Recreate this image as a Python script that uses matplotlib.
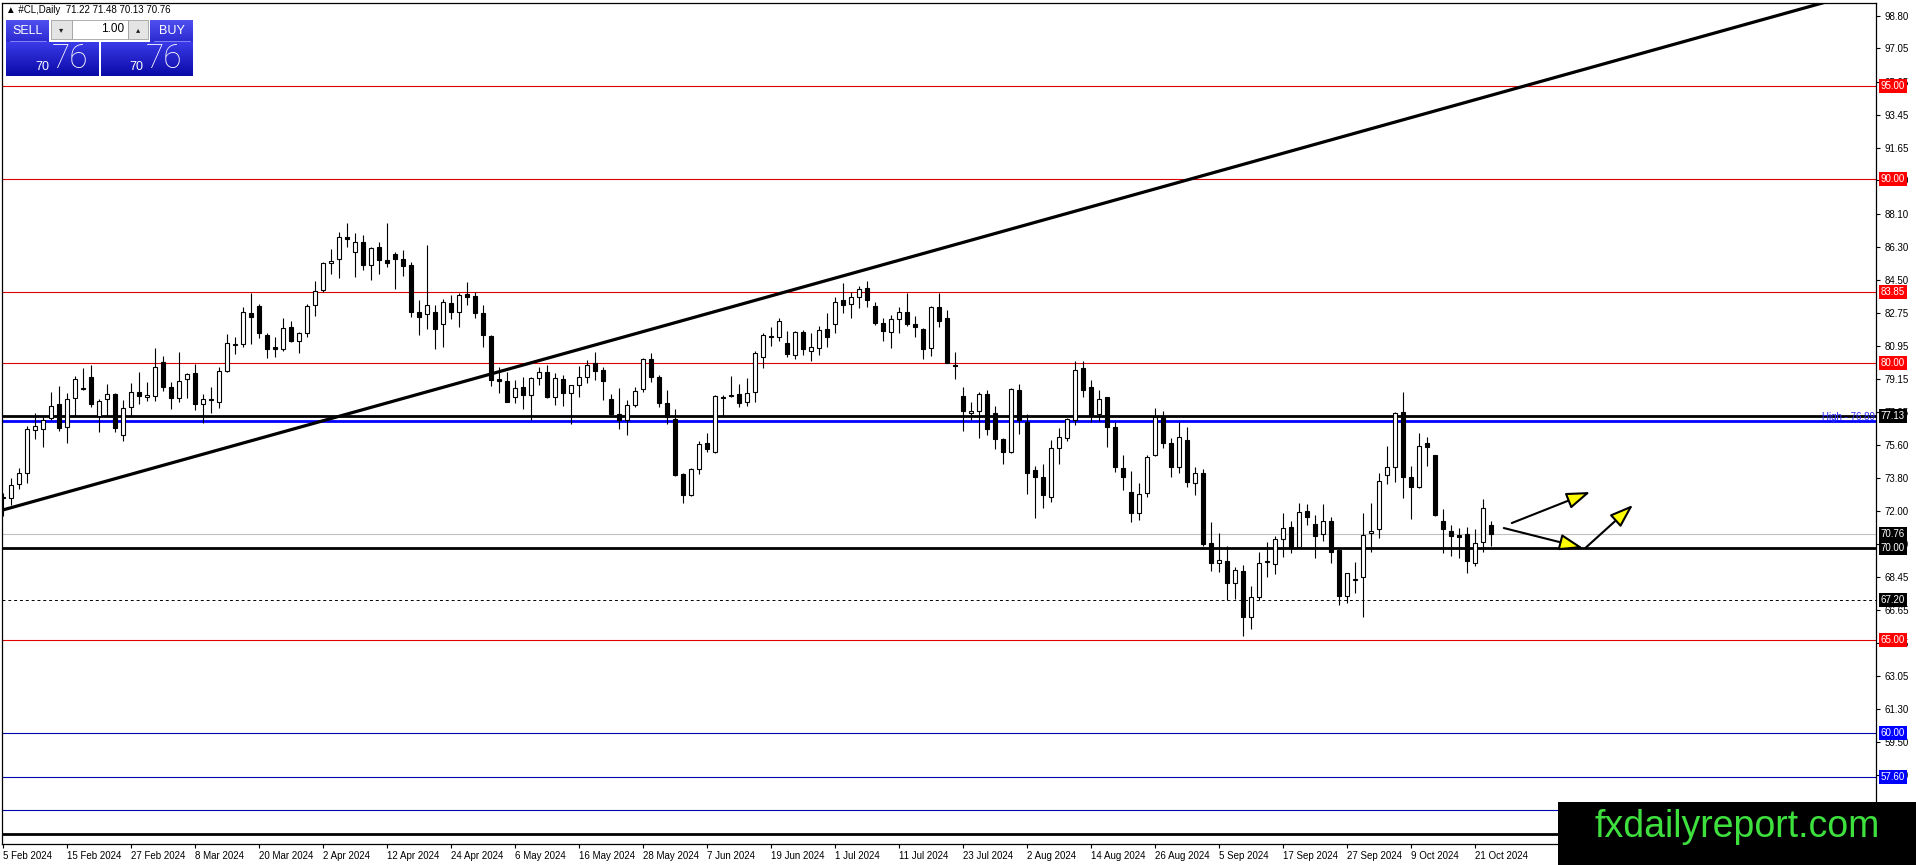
import matplotlib
matplotlib.use('Agg')
import matplotlib.pyplot as plt
from matplotlib.patches import Rectangle, FancyArrowPatch, ArrowStyle
from matplotlib.transforms import blended_transform_factory
import numpy as np

plt.rcParams['font.family'] = ['Liberation Sans', 'DejaVu Sans']

# ---------------- data ----------------
opens = [72.70, 72.72, 73.45, 74.04, 76.39, 76.42, 77.02, 77.78, 76.57, 78.10,
         78.66, 79.28, 77.15, 78.05, 78.32, 76.12, 77.65, 78.43, 78.16, 78.25,
         80.09, 78.70, 78.10, 79.15, 79.46, 77.78, 78.00, 77.89, 79.60, 81.00,
         81.04, 82.71, 83.10, 81.53, 80.90, 80.76, 81.95, 81.23, 81.66, 83.15,
         83.97, 85.45, 85.63, 86.82, 86.04, 86.55, 85.32, 86.28, 85.59, 85.90,
         85.63, 85.32, 82.80, 82.67, 82.80, 82.13, 83.28, 82.76, 83.75, 83.66,
         82.71, 81.48, 79.15, 79.04, 78.16, 78.70, 78.28, 79.19, 79.55, 78.16,
         79.13, 78.41, 78.82, 79.28, 80.00, 79.64, 78.05, 77.26, 76.93, 77.74,
         78.59, 80.21, 79.28, 77.83, 76.97, 74.00, 72.87, 74.26, 75.67, 75.22,
         78.20, 78.23, 78.32, 77.92, 78.46, 80.36, 81.50, 81.41, 81.08, 80.45,
         81.71, 80.68, 80.81, 81.84, 82.13, 83.43, 83.21, 83.57, 84.06, 83.10,
         82.20, 81.71, 82.38, 82.80, 82.13, 81.84, 80.81, 83.07, 82.43, 79.93,
         78.23, 77.29, 77.44, 78.34, 77.29, 75.88, 75.18, 78.55, 76.84, 74.22,
         73.86, 72.78, 75.40, 75.97, 76.93, 79.73, 78.70, 77.26, 78.16, 76.53,
         74.31, 73.05, 71.91, 72.96, 75.04, 77.15, 75.70, 74.37, 75.85, 73.50,
         74.04, 70.25, 69.21, 69.31, 68.09, 68.75, 66.25, 67.37, 69.22, 69.12,
         70.47, 71.12, 70.07, 72.02, 71.30, 70.76, 71.48, 69.89, 67.40, 68.28,
         68.41, 70.79, 71.01, 73.95, 74.37, 77.35, 73.83, 73.32, 75.70, 75.04,
         71.48, 70.94, 70.70, 70.74, 69.21, 70.34, 71.22]
highs = [73.00, 73.77, 74.31, 76.61, 77.29, 77.07, 78.43, 78.77, 78.37, 79.31,
         79.73, 79.91, 78.05, 78.88, 78.41, 78.01, 78.92, 79.55, 79.00, 80.81,
         80.40, 79.00, 80.63, 79.49, 79.94, 78.34, 78.70, 79.82, 81.57, 81.44,
         83.03, 83.82, 83.21, 81.66, 81.41, 82.43, 82.31, 81.70, 83.21, 84.47,
         85.50, 86.17, 87.13, 87.61, 87.04, 86.95, 86.31, 86.59, 87.61, 86.04,
         86.13, 85.50, 83.43, 86.40, 83.16, 83.46, 83.70, 83.79, 84.42, 83.88,
         83.16, 81.53, 79.78, 79.55, 79.10, 79.24, 79.28, 79.82, 79.91, 79.46,
         79.37, 78.85, 79.85, 80.18, 80.63, 79.78, 78.34, 78.64, 78.01, 78.73,
         80.27, 80.58, 79.37, 78.55, 77.51, 74.04, 74.31, 75.81, 76.21, 78.28,
         78.30, 79.31, 78.88, 79.19, 80.68, 81.62, 81.98, 82.43, 81.77, 81.77,
         81.80, 81.62, 82.02, 82.71, 83.57, 84.33, 83.84, 84.18, 84.47, 83.34,
         82.43, 82.61, 83.07, 83.79, 82.56, 81.89, 83.10, 83.82, 82.88, 80.63,
         78.70, 77.90, 78.46, 78.55, 77.69, 75.94, 78.64, 78.88, 77.26, 74.44,
         74.55, 75.85, 76.48, 77.02, 80.14, 80.14, 79.10, 78.55, 78.20, 76.84,
         75.04, 74.19, 73.50, 75.04, 77.56, 77.44, 75.94, 76.84, 76.53, 74.37,
         74.26, 71.43, 70.83, 70.11, 68.95, 69.08, 67.94, 69.80, 70.34, 70.65,
         71.91, 71.46, 72.45, 72.38, 71.79, 72.38, 71.66, 69.95, 68.66, 69.26,
         71.91, 72.42, 74.04, 75.52, 77.38, 78.46, 74.44, 76.21, 75.99, 75.06,
         72.09, 71.25, 71.06, 71.16, 71.01, 72.63, 71.48]
lows = [71.75, 72.33, 73.18, 73.54, 75.88, 75.49, 76.93, 76.33, 75.70, 77.15,
        78.55, 77.62, 76.30, 77.15, 76.30, 75.81, 77.11, 77.78, 77.96, 77.96,
        78.50, 77.51, 77.92, 78.10, 77.47, 76.75, 77.29, 77.56, 79.55, 80.51,
        80.90, 81.04, 81.39, 80.27, 80.36, 80.68, 81.18, 80.54, 81.44, 82.56,
        83.88, 84.83, 84.62, 86.28, 84.65, 85.05, 84.51, 84.83, 85.23, 84.00,
        84.73, 82.49, 81.53, 81.84, 80.76, 80.87, 82.38, 81.95, 83.16, 82.44,
        80.90, 78.77, 78.37, 77.90, 77.87, 77.51, 76.93, 78.82, 78.10, 77.74,
        77.69, 76.71, 78.16, 78.95, 79.10, 78.01, 77.20, 76.42, 76.12, 77.65,
        78.46, 79.01, 77.65, 76.71, 73.90, 72.45, 72.82, 74.00, 75.22, 75.16,
        77.11, 78.20, 77.65, 77.69, 77.92, 79.73, 80.94, 81.23, 80.32, 80.21,
        80.45, 80.14, 80.45, 80.90, 81.66, 82.71, 82.43, 82.98, 83.03, 82.07,
        81.23, 80.83, 81.62, 82.02, 81.41, 80.21, 80.40, 81.98, 80.00, 79.13,
        76.35, 76.95, 75.97, 76.12, 75.34, 74.55, 75.16, 76.17, 72.92, 71.61,
        72.15, 72.51, 74.55, 75.81, 76.66, 78.16, 76.84, 76.89, 75.49, 74.13,
        73.14, 71.43, 71.52, 72.78, 75.00, 75.40, 73.83, 74.04, 73.32, 72.87,
        70.11, 68.77, 68.72, 67.18, 67.22, 65.24, 65.60, 67.18, 68.45, 68.59,
        69.53, 69.71, 70.04, 71.25, 69.44, 70.40, 69.21, 66.91, 67.04, 67.55,
        66.28, 69.80, 70.52, 73.47, 73.59, 72.69, 71.55, 73.23, 74.44, 71.73,
        69.71, 69.57, 69.44, 68.66, 69.03, 69.80, 70.13]
closes = [72.78, 73.41, 74.04, 76.42, 76.61, 76.93, 77.71, 76.52, 78.05, 79.13,
          78.62, 77.78, 77.98, 78.32, 76.52, 77.56, 78.46, 78.25, 78.28, 79.78,
          78.73, 78.10, 79.06, 79.40, 77.80, 78.05, 78.05, 79.60, 81.08, 81.05,
          82.76, 82.49, 81.66, 80.76, 80.76, 81.89, 81.23, 81.66, 83.10, 83.93,
          85.45, 85.56, 86.82, 86.71, 86.55, 85.32, 86.22, 85.59, 85.41, 85.63,
          85.27, 82.80, 82.49, 83.16, 81.84, 83.34, 82.80, 83.70, 83.61, 82.71,
          81.53, 79.10, 79.04, 77.92, 78.64, 78.28, 79.19, 79.55, 78.16, 79.19,
          78.41, 78.82, 79.28, 79.91, 79.60, 79.06, 77.26, 76.93, 77.74, 78.52,
          80.21, 79.24, 77.83, 77.11, 73.95, 72.87, 74.26, 75.63, 75.34, 78.23,
          78.12, 78.25, 77.87, 78.41, 80.54, 81.53, 81.44, 82.29, 80.50, 81.71,
          80.76, 80.86, 81.80, 81.44, 83.34, 83.16, 83.57, 84.00, 83.43, 82.20,
          81.77, 82.38, 82.79, 82.13, 81.95, 80.76, 83.07, 82.31, 80.03, 79.88,
          77.44, 77.44, 78.34, 76.42, 75.88, 75.22, 78.59, 76.93, 74.08, 73.86,
          72.87, 75.40, 76.03, 76.97, 79.64, 78.55, 77.15, 78.05, 76.57, 74.37,
          73.86, 71.91, 72.92, 74.91, 77.07, 75.70, 74.37, 75.99, 73.59, 74.04,
          70.22, 69.21, 69.35, 68.12, 68.81, 66.25, 67.33, 69.17, 69.28, 70.47,
          71.06, 70.04, 71.97, 71.66, 70.65, 71.48, 69.80, 67.40, 68.63, 68.33,
          70.70, 70.94, 73.65, 74.40, 77.29, 73.86, 73.32, 75.52, 75.45, 71.79,
          71.01, 70.67, 70.61, 69.31, 70.25, 72.15, 70.76]

date_tick_bars = list(range(0, 185, 8))
date_labels = ['5 Feb 2024', '15 Feb 2024', '27 Feb 2024', '8 Mar 2024', '20 Mar 2024',
               '2 Apr 2024', '12 Apr 2024', '24 Apr 2024', '6 May 2024', '16 May 2024',
               '28 May 2024', '7 Jun 2024', '19 Jun 2024', '1 Jul 2024', '11 Jul 2024',
               '23 Jul 2024', '2 Aug 2024', '14 Aug 2024', '26 Aug 2024', '5 Sep 2024',
               '17 Sep 2024', '27 Sep 2024', '9 Oct 2024', '21 Oct 2024']

price_ticks = [98.80, 97.05, 95.25, 93.45, 91.65, 89.90, 88.10, 86.30, 84.50, 82.75,
               80.95, 79.15, 77.35, 75.60, 73.80, 72.00, 70.20, 68.45, 66.65, 64.85,
               63.05, 61.30, 59.50, 57.70, 55.95, 54.15]

red_levels = [95.00, 90.00, 83.85, 80.00, 65.00]
blue_levels = [60.00, 57.60, 55.80]
black_thick_levels = [77.13, 70.00, 54.50]
high_level = 76.89
bid_level = 70.76
dashed_level = 67.20

trend_x = [0.0, 227.0]
trend_y = [72.06, 99.46]

arrows = [((188.6, 71.35), (198.4, 73.03)),
          ((187.6, 71.08), (197.5, 70.00)),
          ((197.8, 70.00), (203.75, 72.33))]

box_levels = [(95.00, '#ff0000'), (90.00, '#ff0000'), (83.85, '#ff0000'),
              (80.00, '#ff0000'), (77.13, '#000000'), (70.76, '#000000'),
              (70.00, '#000000'), (67.20, '#000000'), (65.00, '#ff0000'),
              (60.00, '#0000ff'), (57.60, '#0000ff')]

# ---------------- figure ----------------
W, H = 1916, 865
fig = plt.figure(figsize=(W / 100, H / 100), dpi=100, facecolor='white')
L_px, R_px, T_px, B_px = 2, 1876, 3, 844
ax = fig.add_axes([L_px / W, 1 - B_px / H, (R_px - L_px) / W, (B_px - T_px) / H])
ax.set_facecolor('white')

x_min = (L_px - 3) / 8.0
x_max = (R_px - 3) / 8.0
ax.set_xlim(x_min, x_max)
ax.set_ylim(53.97, 99.51)

# horizontal levels
for lv in red_levels:
    ax.axhline(lv, color='#dd0000', lw=0.8, zorder=1)
for lv in blue_levels:
    ax.axhline(lv, color='#0000b0', lw=0.8, zorder=1)
ax.axhline(bid_level, color='#c0c0c0', lw=0.8, zorder=1)
ax.axhline(dashed_level, color='black', lw=0.7, ls=(0, (3, 3)), zorder=1)
ax.axhline(high_level, color='#0000ff', lw=2.0, zorder=1)
for lv in black_thick_levels:
    ax.axhline(lv, color='black', lw=2.0, zorder=1)

# trend line (extended across the plot)
slope = (trend_y[1] - trend_y[0]) / (trend_x[1] - trend_x[0])
tx = np.array([x_min - 2, x_max + 2])
ax.plot(tx, trend_y[0] + slope * (tx - trend_x[0]), color='black', lw=2.3, zorder=2,
        solid_capstyle='butt')

# candles
o = np.array(opens); h = np.array(highs); l = np.array(lows); c = np.array(closes)
xs = np.arange(len(o))
ax.vlines(xs, l, h, color='black', lw=0.8, zorder=3)
bottoms = np.minimum(o, c)
heights = np.maximum(np.abs(c - o), 0.03)
fcs = ['white' if cc >= oo else 'black' for oo, cc in zip(o, c)]
ax.bar(xs, heights, bottom=bottoms, width=0.6, color=fcs, edgecolor='black',
       linewidth=0.8, zorder=4)

# arrows
for (p0, p1) in arrows:
    arr = FancyArrowPatch(p0, p1, arrowstyle=ArrowStyle('-|>', head_length=1.2, head_width=0.42),
                          mutation_scale=12, facecolor='#ffff00', edgecolor='black',
                          lw=1.5, zorder=6, shrinkA=0, shrinkB=0)
    ax.add_patch(arr)

# "High - 76.89" label
ax.text(x_max - 0.1, high_level + 0.2, 'High - 76.89', color='#2a2aff', fontsize=7,
        ha='right', va='center', zorder=5)

# axes styling
for sp in ax.spines.values():
    sp.set_color('black')
    sp.set_linewidth(0.9)
ax.yaxis.tick_right()
ax.set_yticks(price_ticks)
ax.set_yticklabels([f'{v:.2f}' for v in price_ticks])
ax.tick_params(axis='y', direction='out', length=3, width=0.8, pad=3, labelsize=7,
               colors='black')
ax.set_xticks(date_tick_bars)
ax.set_xticklabels(date_labels, ha='left')
ax.tick_params(axis='x', direction='out', length=3, width=0.8, pad=2, labelsize=7,
               colors='black')

# price boxes on the right scale
trans = blended_transform_factory(ax.transAxes, ax.transData)
for val, col in box_levels:
    ax.text(1.0025, val, f'{val:.2f}', transform=trans, fontsize=7, color='white',
            va='center', ha='left', clip_on=False, zorder=10,
            bbox=dict(boxstyle='square,pad=0.2', fc=col, ec='none'))

# ---------------- overlay (pixel coords) ----------------
ov = fig.add_axes([0, 0, 1, 1], zorder=20)
ov.set_xlim(0, W)
ov.set_ylim(H, 0)
ov.axis('off')
ov.patch.set_alpha(0)


def grad(x0, y0, x1, y1, top, bot):
    t = np.array(matplotlib.colors.to_rgb(top))
    b = np.array(matplotlib.colors.to_rgb(bot))
    n = 32
    g = np.linspace(0, 1, n)[:, None]
    img = (t[None, :] * (1 - g) + b[None, :] * g)[:, None, :]
    ov.imshow(img, extent=(x0, x1, y1, y0), aspect='auto', interpolation='bilinear', zorder=1)


ov.text(6, 10, '▲ #CL,Daily  71.22 71.48 70.13 70.76', fontsize=7, va='center', ha='left',
        color='black')

# SELL / BUY buttons
grad(6, 20, 49, 42, '#5050f0', '#2a2ad0')
grad(150, 20, 193, 42, '#5050f0', '#2a2ad0')
ov.plot([10, 46], [40.5, 40.5], color='#9090ff', lw=0.6, zorder=2)
ov.plot([154, 190], [40.5, 40.5], color='#9090ff', lw=0.6, zorder=2)
ov.text(27.5, 31, 'SELL', color='white', fontsize=9, ha='center', va='center', zorder=3)
ov.text(171.5, 31, 'BUY', color='white', fontsize=9, ha='center', va='center', zorder=3)
# lot selector
ov.add_patch(Rectangle((51, 20), 21, 19, fc='#e4e4e4', ec='#a0a0a0', lw=0.6, zorder=2))
ov.add_patch(Rectangle((72, 20), 56, 19, fc='white', ec='#a0a0a0', lw=0.6, zorder=2))
ov.add_patch(Rectangle((128, 20), 20, 19, fc='#e4e4e4', ec='#a0a0a0', lw=0.6, zorder=2))
ov.text(61.5, 29.5, '▾', fontsize=6, ha='center', va='center', color='#202020', zorder=3,
        family=['DejaVu Sans'])
ov.text(138, 29.5, '▴', fontsize=6, ha='center', va='center', color='#202020', zorder=3,
        family=['DejaVu Sans'])
ov.text(124, 29.5, '1.00', fontsize=8.5, ha='right', va='center', color='black', zorder=3)
# price boxes
grad(6, 42, 99, 76, '#3a3ae8', '#0a0aa8')
grad(101, 42, 193, 76, '#3a3ae8', '#0a0aa8')
ov.text(42, 67, '70', color='white', fontsize=9, ha='center', va='center', zorder=3)
ov.text(70, 59, '76', color='white', fontsize=24, ha='center', va='center', zorder=3,
        family=['Roboto', 'DejaVu Sans'], fontweight='light')
ov.text(136, 67, '70', color='white', fontsize=9, ha='center', va='center', zorder=3)
ov.text(164, 59, '76', color='white', fontsize=24, ha='center', va='center', zorder=3,
        family=['Roboto', 'DejaVu Sans'], fontweight='light')

# watermark
ov.add_patch(Rectangle((1558, 802), W - 1558, H - 802, fc='black', ec='none', zorder=5))
ov.text(1737, 827, 'fxdailyreport.com', color='#3ee03e', fontsize=27, ha='center',
        va='center', zorder=6)

ov.set_xlim(0, W)
ov.set_ylim(H, 0)

fig.savefig('out.png', dpi=100, facecolor='white')
